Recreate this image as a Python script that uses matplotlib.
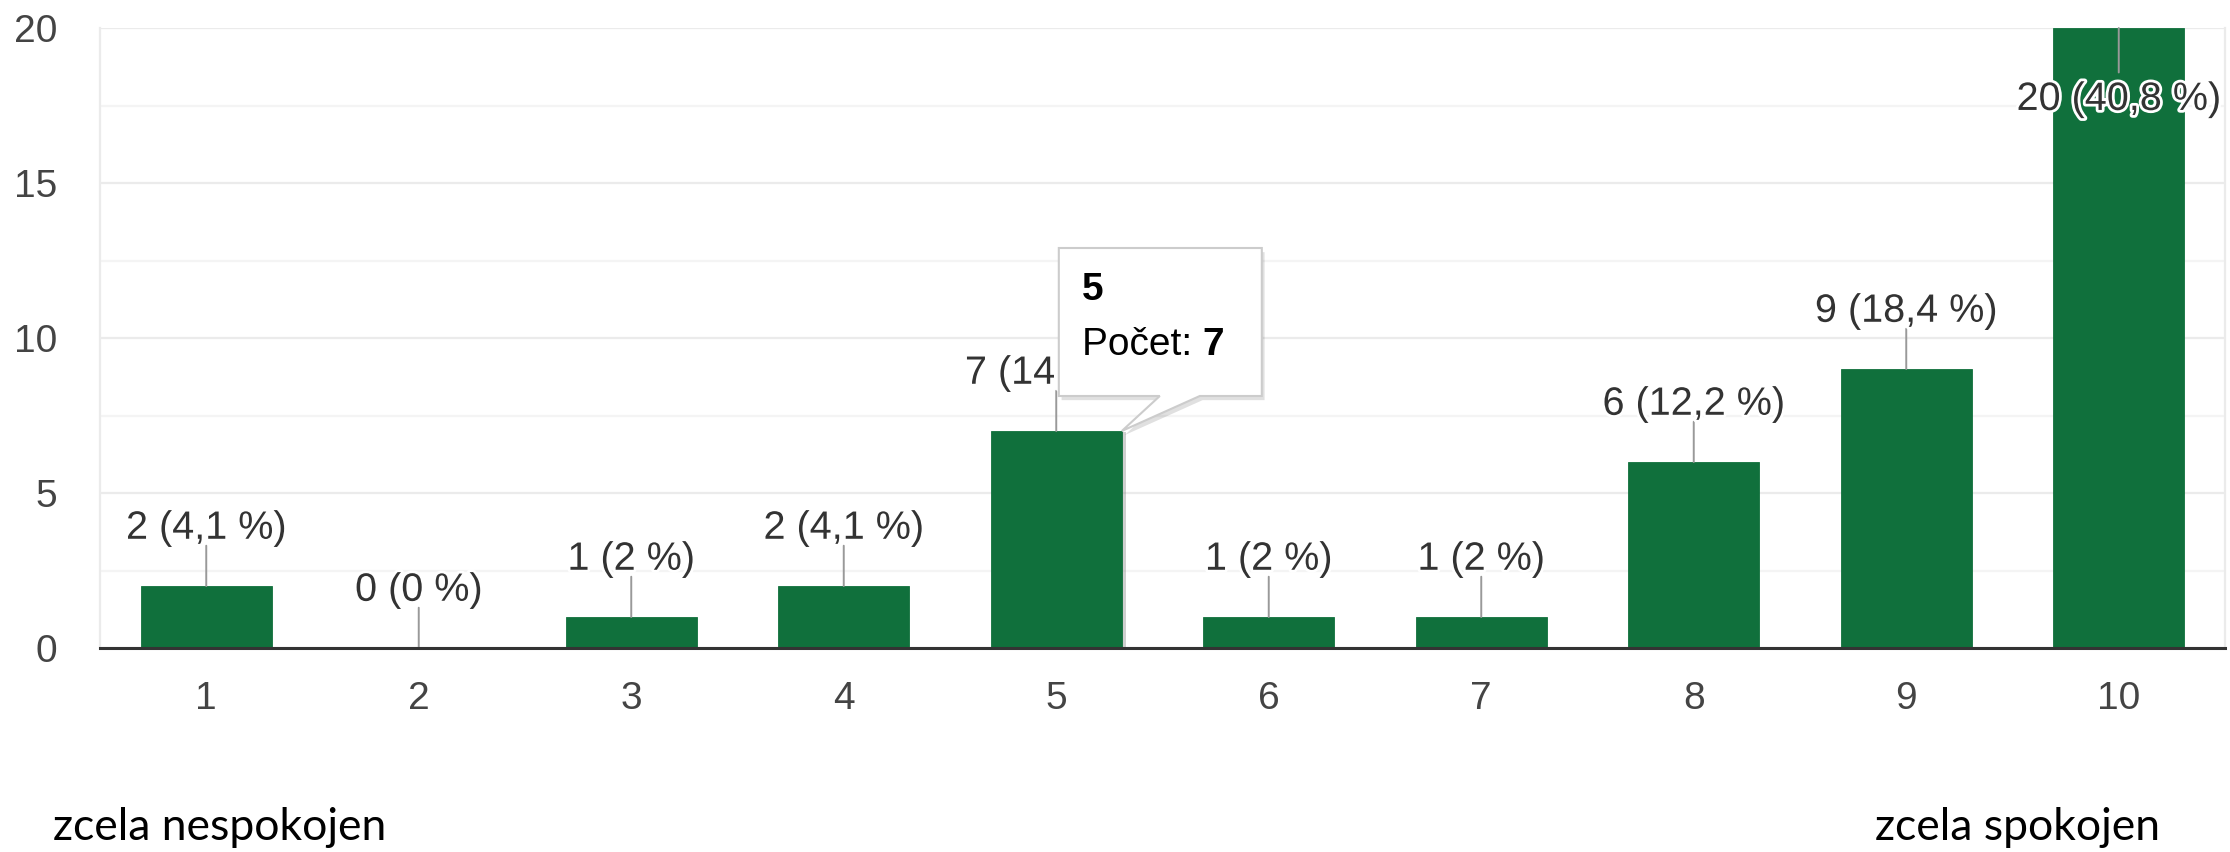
import matplotlib
matplotlib.use("Agg")
import matplotlib.pyplot as plt
import matplotlib.patheffects as pe
from matplotlib.patches import Polygon
from matplotlib.ticker import MultipleLocator

# data
scores = [1, 2, 3, 4, 5, 6, 7, 8, 9, 10]
counts = [2, 0, 1, 2, 7, 1, 1, 6, 9, 20]
percents = ["4,1", "0", "2", "4,1", "14,3", "2", "2", "12,2", "18,4", "40,8"]
hover_score = 5
left_note = "zcela nespokojen"
right_note = "zcela spokojen"

green = "#10703c"
grey_txt = "#333333"
W, H = 2230, 852

plt.rcParams['font.family'] = ['Liberation Sans', 'DejaVu Sans']

fig = plt.figure(figsize=(W / 100, H / 100), dpi=100)
ax = fig.add_axes([100 / W, 204 / H, 2125 / W, 620 / H])

width = 0.617
bars = ax.bar(scores, counts, width=width, color=green, zorder=3,
              edgecolor=green, linewidth=0.6)

ax.set_xlim(0.5, 10.5)
ax.set_ylim(0, 20)
ax.set_xticks(scores)
ax.yaxis.set_major_locator(MultipleLocator(5))
ax.yaxis.set_minor_locator(MultipleLocator(2.5))
ax.grid(axis='y', which='major', color='#ebebeb', lw=1.6, zorder=0)
ax.grid(axis='y', which='minor', color='#f4f4f4', lw=1.6, zorder=0)
ax.tick_params(axis='both', which='both', length=0, labelsize=28, labelcolor='#444444')
ax.tick_params(axis='y', pad=31)
ax.tick_params(axis='x', pad=24)

for side in ['left', 'right', 'top']:
    ax.spines[side].set_color('#ebebeb')
    ax.spines[side].set_linewidth(1.6)
ax.spines['top'].set_visible(False)
ax.spines['bottom'].set_color('#333333')
ax.spines['bottom'].set_linewidth(2.2)
ax.spines['bottom'].set_zorder(4)

# value labels with grey stems
ymax = ax.get_ylim()[1]
for x, c, p in zip(scores, counts, percents):
    label = "%d (%s %%)" % (c, p)
    if c >= ymax:
        stem_end, text_off = -32, -59
    else:
        stem_end, text_off = 29, 34
    ax.annotate("", xy=(x, c), xytext=(0, stem_end), textcoords='offset points',
                arrowprops=dict(arrowstyle='-', color='#999999', lw=1.4,
                                shrinkA=0, shrinkB=0), zorder=4)
    ax.annotate(label, xy=(x, c), xytext=(0, text_off), textcoords='offset points',
                ha='center', va='baseline', fontsize=28.5, color=grey_txt, zorder=5,
                path_effects=[pe.withStroke(linewidth=4, foreground='white')])

# tooltip over the hovered bar
fig.canvas.draw()
hi = scores.index(hover_score)
bars[hi].set_path_effects([pe.SimplePatchShadow(offset=(3, -1), shadow_rgbFace='#777777', alpha=0.35), pe.Normal()])
tx, ty = ax.transData.transform((hover_score + width / 2, counts[hi]))
pts = [(0, 0), (78, 35), (140, 35), (140, 183), (-63, 183), (-63, 35), (38, 35)]
tip = Polygon([(tx + dx, ty + dy) for dx, dy in pts], closed=True, transform=None,
              facecolor='white', edgecolor='#cccccc', lw=1.5, zorder=10,
              path_effects=[pe.SimplePatchShadow(offset=(2, -3), shadow_rgbFace='#000000', alpha=0.12), pe.Normal()])
fig.add_artist(tip)
fig.text((tx - 40) / W, (ty + 141) / H, str(hover_score), fontsize=28, fontweight='bold',
         color='black', va='center', ha='left', zorder=11)
t1 = fig.text((tx - 40) / W, (ty + 86) / H, "Počet: ", fontsize=28, color='black',
              va='center', ha='left', zorder=11)
fig.canvas.draw()
bb = t1.get_window_extent()
fig.text(bb.x1 / W, (ty + 86) / H, str(counts[hi]), fontsize=28, fontweight='bold',
         color='black', va='center', ha='left', zorder=11)

fig.text(53 / W, 1 - 828 / H, left_note, fontsize=32, family='Lato', color='black',
         ha='left', va='center')
fig.text(2160 / W, 1 - 828 / H, right_note, fontsize=32, family='Lato', color='black',
         ha='right', va='center')

fig.savefig("out.png", dpi=100, facecolor='white')
